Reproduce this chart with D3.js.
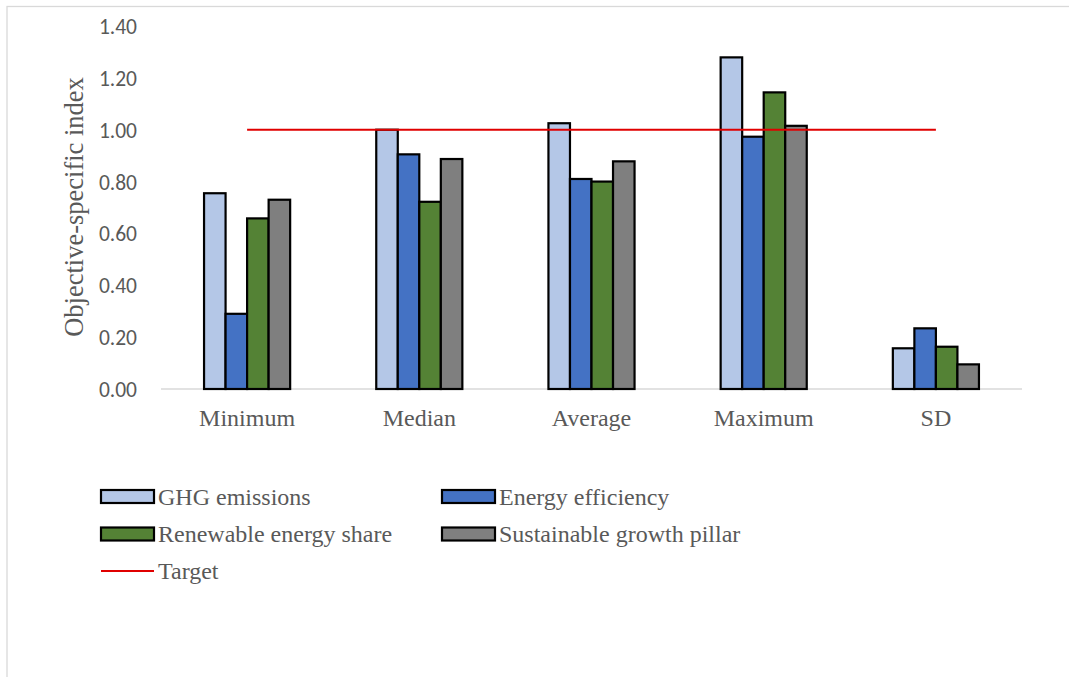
<!DOCTYPE html>
<html>
<head>
<meta charset="utf-8">
<script src="https://cdn.jsdelivr.net/npm/d3@7"></script>
<style>
  html, body { margin: 0; padding: 0; background: #fff; }
  svg { display: block; }
</style>
</head>
<body>
<svg id="chart" width="1069" height="677"></svg>
<script>
const categories = ["Minimum", "Median", "Average", "Maximum", "SD"];
const seriesNames = ["GHG emissions", "Energy efficiency", "Renewable energy share", "Sustainable growth pillar"];
const ghgEmissions = [0.755, 1.000, 1.025, 1.279, 0.157];
const energyEfficiency = [0.290, 0.905, 0.810, 0.973, 0.234];
const renewableShare = [0.658, 0.722, 0.800, 1.144, 0.163];
const sustainableGrowth = [0.730, 0.887, 0.878, 1.015, 0.095];
const targetValue = 1.00;
const yTicks = [0, 0.2, 0.4, 0.6, 0.8, 1.0, 1.2, 1.4];
const colors = ["#b4c7e7", "#4472c4", "#548235", "#7f7f7f"];

const seriesValues = [ghgEmissions, energyEfficiency, renewableShare, sustainableGrowth];

const svg = d3.select("#chart");
const serif = "'Liberation Serif', 'Times New Roman', serif";
const sans = "Carlito, Calibri, Lato, sans-serif";

// outer chart border
svg.append("rect").attr("x", 7).attr("y", 6.5).attr("width", 1100).attr("height", 700)
  .attr("fill", "none").attr("stroke", "#d9d9d9").attr("stroke-width", 1.3);

const x0 = d3.scaleBand().domain(categories).range([161, 1022]).paddingInner(0.5).paddingOuter(0.25);
const x1 = d3.scaleBand().domain(seriesNames).range([0, x0.bandwidth()]).padding(0);
const y = d3.scaleLinear().domain([0, 1.4]).range([389, 26]);

// y axis tick labels
const yAxis = d3.axisLeft(y).tickValues(yTicks).tickFormat(d3.format(".2f")).tickSize(0).tickPadding(0);
const gy = svg.append("g").attr("transform", "translate(137,0)").call(yAxis);
gy.select(".domain").remove();
gy.selectAll("text").attr("font-family", sans).attr("font-size", 21.5).attr("fill", "#595959").attr("dy", "0.35em");

// baseline
svg.append("line").attr("x1", 161).attr("x2", 1022).attr("y1", y(0)).attr("y2", y(0))
  .attr("stroke", "#d9d9d9").attr("stroke-width", 1.5);

// bars
const groups = svg.append("g").selectAll("g").data(categories).join("g")
  .attr("transform", d => `translate(${x0(d)},0)`);
groups.selectAll("rect").data((c, ci) => seriesNames.map((s, si) => ({ s, si, v: seriesValues[si][ci] })))
  .join("rect")
  .attr("x", d => x1(d.s))
  .attr("y", d => y(d.v))
  .attr("width", x1.bandwidth())
  .attr("height", d => y(0) - y(d.v))
  .attr("fill", d => colors[d.si])
  .attr("stroke", "#000").attr("stroke-width", 2.2);

// target line
svg.append("line")
  .attr("x1", x0(categories[0]) + x0.bandwidth() / 2)
  .attr("x2", x0(categories[categories.length - 1]) + x0.bandwidth() / 2)
  .attr("y1", y(targetValue)).attr("y2", y(targetValue))
  .attr("stroke", "#e00000").attr("stroke-width", 2);

// x axis labels
const xAxis = d3.axisBottom(x0).tickSize(0).tickPadding(0);
const gx = svg.append("g").attr("transform", "translate(0,418)").call(xAxis);
gx.select(".domain").remove();
gx.selectAll("text").attr("font-family", serif).attr("font-size", 24).attr("fill", "#595959").attr("dy", "0.35em");

// y axis title
svg.append("text").attr("transform", "translate(74,207) rotate(-90)")
  .attr("text-anchor", "middle").attr("dy", "0.35em")
  .attr("font-family", serif).attr("font-size", 26.5).attr("fill", "#595959")
  .text("Objective-specific index");

// legend
const legendItems = [
  { name: seriesNames[0], color: colors[0], x: 101, y: 496.5 },
  { name: seriesNames[1], color: colors[1], x: 442, y: 496.5 },
  { name: seriesNames[2], color: colors[2], x: 101, y: 534 },
  { name: seriesNames[3], color: colors[3], x: 442, y: 534 }
];
const lg = svg.append("g");
legendItems.forEach(it => {
  lg.append("rect").attr("x", it.x).attr("y", it.y - 6.5).attr("width", 53).attr("height", 13)
    .attr("fill", it.color).attr("stroke", "#000").attr("stroke-width", 2.2);
  lg.append("text").attr("x", it.x + 57).attr("y", it.y).attr("dy", "0.35em")
    .attr("font-family", serif).attr("font-size", 24).attr("fill", "#595959").text(it.name);
});
lg.append("line").attr("x1", 101).attr("x2", 154).attr("y1", 571).attr("y2", 571)
  .attr("stroke", "#e00000").attr("stroke-width", 2);
lg.append("text").attr("x", 158).attr("y", 571).attr("dy", "0.35em")
  .attr("font-family", serif).attr("font-size", 24).attr("fill", "#595959").text("Target");
</script>
</body>
</html>
